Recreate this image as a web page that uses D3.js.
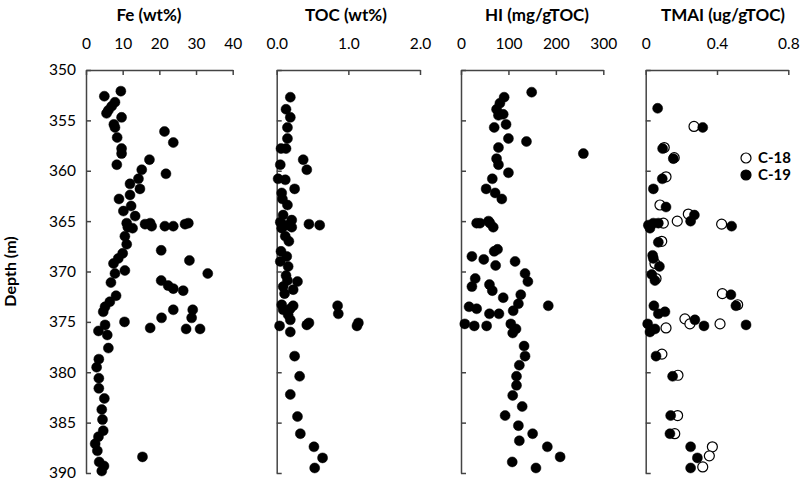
<!DOCTYPE html>
<html><head><meta charset="utf-8">
<script src="https://cdn.jsdelivr.net/npm/d3@7"></script>
<style>
body{margin:0;background:#fff;}
text{font-family:Lato,"Open Sans",sans-serif;}
</style></head>
<body><svg id="c" width="800" height="485"></svg>
<script>
// ---- data: [value, depth] ----
const feData = [[5.0,352.6],[9.5,352.1],[7.9,353.2],[7.0,353.6],[6.1,354.0],[5.6,354.3],[9.7,354.7],[7.6,355.4],[7.9,355.7],[8.5,356.7],[9.7,357.8],[9.7,358.3],[21.4,356.1],[23.8,357.2],[17.3,358.9],[8.4,359.4],[21.8,360.3],[15.2,359.9],[12.0,361.3],[14.3,360.8],[14.7,361.8],[12.0,362.4],[9.0,362.8],[12.3,363.5],[10.2,364.0],[13.4,364.5],[11.1,365.2],[11.4,365.6],[12.7,365.7],[16.1,365.3],[17.5,365.2],[17.9,365.5],[21.5,365.5],[23.8,365.5],[27.0,365.3],[27.9,365.2],[10.6,366.5],[11.1,367.3],[20.5,367.9],[10.0,368.2],[8.8,368.7],[7.5,369.2],[10.6,369.9],[7.9,370.2],[28.2,368.9],[33.2,370.2],[6.8,371.1],[20.5,370.9],[22.4,371.4],[23.8,371.7],[26.5,371.9],[8.2,372.4],[6.5,373.0],[5.2,373.5],[4.7,374.0],[29.1,373.8],[23.8,373.8],[20.6,374.6],[28.8,374.6],[10.5,375.0],[5.2,375.3],[17.5,375.6],[27.3,375.7],[31.1,375.7],[3.4,375.9],[5.8,376.3],[6.1,377.6],[3.5,378.7],[2.9,379.5],[3.5,380.6],[3.5,381.6],[5.0,382.6],[4.3,383.7],[4.5,384.7],[4.7,385.8],[3.4,386.4],[2.5,387.1],[3.1,387.8],[15.4,388.4],[3.6,388.9],[4.9,389.3],[4.3,389.8]];
const tocData = [[0.19,352.7],[0.13,353.9],[0.19,354.7],[0.15,355.7],[0.15,356.8],[0.06,357.8],[0.13,357.8],[0.37,358.9],[0.05,359.4],[0.42,359.9],[0.02,360.8],[0.12,360.9],[0.25,361.8],[0.07,362.2],[0.08,362.8],[0.15,363.4],[0.09,364.4],[0.05,365.1],[0.21,364.9],[0.14,365.4],[0.07,365.7],[0.21,365.6],[0.45,365.3],[0.60,365.4],[0.12,366.5],[0.17,367.0],[0.06,368.0],[0.14,368.5],[0.05,369.0],[0.16,369.5],[0.13,370.4],[0.15,370.9],[0.29,371.0],[0.09,371.5],[0.23,371.8],[0.11,372.2],[0.07,373.3],[0.09,373.8],[0.19,373.7],[0.23,373.4],[0.85,373.4],[0.86,374.2],[0.16,374.3],[0.19,374.8],[0.04,375.4],[0.19,376.0],[0.42,375.3],[0.45,375.1],[1.12,375.4],[1.14,375.1],[0.25,378.4],[0.32,380.4],[0.19,382.2],[0.29,384.4],[0.33,386.1],[0.52,387.4],[0.64,388.5],[0.53,389.5]];
const hiData = [[149,352.2],[91,352.7],[82,353.3],[75,353.9],[79,354.5],[89,354.4],[70,355.7],[95,355.4],[100,356.8],[138,357.1],[79,357.7],[258,358.3],[75,358.8],[79,359.4],[100,360.2],[66,360.8],[53,361.8],[72,362.2],[86,362.8],[33,365.2],[40,365.2],[58,365.0],[61,365.2],[68,365.6],[70,368.0],[77,367.8],[23,368.5],[48,368.8],[73,369.4],[114,369.0],[30,370.7],[23,371.5],[135,370.2],[141,371.0],[60,371.3],[66,371.9],[126,372.3],[89,372.6],[121,373.2],[17,373.5],[33,373.7],[184,373.4],[110,373.9],[60,374.2],[80,374.2],[8,375.2],[28,375.4],[54,375.4],[105,375.2],[116,375.7],[109,376.1],[133,377.4],[135,378.4],[123,379.3],[117,380.4],[117,381.3],[109,382.3],[129,383.4],[93,384.3],[121,385.3],[151,386.1],[123,386.8],[182,387.4],[209,388.4],[108,388.9],[158,389.5]];
const tmaiC18 = [[0.271,355.6],[0.104,357.7],[0.160,358.7],[0.114,360.6],[0.080,363.4],[0.177,365.0],[0.239,364.3],[0.099,365.2],[0.426,365.3],[0.090,367.0],[0.052,369.2],[0.058,370.7],[0.430,372.2],[0.516,373.3],[0.220,374.7],[0.248,375.2],[0.417,375.2],[0.114,375.6],[0.091,378.2],[0.181,380.3],[0.179,384.3],[0.163,386.1],[0.374,387.4],[0.357,388.3],[0.320,389.4]];
const tmaiC19 = [[0.067,353.8],[0.320,355.7],[0.095,357.8],[0.155,358.8],[0.093,360.8],[0.043,361.8],[0.114,363.6],[0.273,364.4],[0.252,365.0],[0.015,365.4],[0.043,365.2],[0.071,365.2],[0.024,365.7],[0.482,365.5],[0.071,367.1],[0.039,368.4],[0.043,368.7],[0.077,369.5],[0.034,370.3],[0.052,370.9],[0.478,372.3],[0.506,373.4],[0.046,373.4],[0.108,374.0],[0.071,374.2],[0.276,374.8],[0.327,375.4],[0.563,375.3],[0.011,375.2],[0.024,376.0],[0.052,375.7],[0.058,378.4],[0.151,380.4],[0.140,384.3],[0.136,386.1],[0.252,387.4],[0.290,388.5],[0.252,389.5]];

const panelTitles = ["Fe (wt%)","TOC (wt%)","HI (mg/gTOC)","TMAI (ug/gTOC)"];
const xDomains = [[0,40],[0,2],[0,300],[0,0.8]];
const xTickVals = [[0,10,20,30,40],[0,1,2],[0,100,200,300],[0,0.4,0.8]];
const xTickLabels = [["0","10","20","30","40"],["0.0","1.0","2.0"],["0","100","200","300"],["0","0.4","0.8"]];
const depthTicks = [350,355,360,365,370,375,380,385,390];
const legendLabels = ["C-18","C-19"];

// ---- layout ----
const svg = d3.select("#c");
const yTop = 70, yBottom = 473;
const panelX = [[86,232.7],[276.7,420],[461,603.3],[645.7,788.3]];
const titleX = [149,346,537,723];
const y = d3.scaleLinear().domain([350,390]).range([yTop,yBottom]);
const axisColor = "#444";

panelX.forEach((px,i)=>{
  const x = d3.scaleLinear().domain(xDomains[i]).range(px);
  const g = svg.append("g");
  const ax = d3.axisTop(x).tickValues(xTickVals[i]).tickFormat((d,k)=>xTickLabels[i][k])
    .tickSizeInner(-5).tickSizeOuter(0).tickPadding(21);
  const ga = g.append("g").attr("transform",`translate(0,${yTop})`).call(ax);
  ga.selectAll("text").attr("font-size",15.5).attr("fill","#000").attr("font-family","Lato");
  const ay = d3.axisLeft(y).tickValues(depthTicks).tickSizeInner(-5).tickSizeOuter(0).tickPadding(10)
    .tickFormat(i===0 ? d3.format("d") : ()=>"");
  const gy = g.append("g").attr("transform",`translate(${px[0]},0)`).call(ay);
  gy.selectAll("text").attr("font-size",15.5).attr("fill","#000").attr("font-family","Lato");
  [ga,gy].forEach(s=>{s.selectAll("path,line").attr("stroke",axisColor).attr("stroke-width",1.5);});
  svg.append("text").attr("x",titleX[i]).attr("y",21).attr("text-anchor","middle")
    .attr("font-size",17).attr("font-weight","bold").text(panelTitles[i]);
  const plot = (data, open)=>{
    g.append("g").selectAll("circle").data(data).join("circle")
      .attr("cx",d=>x(d[0])).attr("cy",d=>y(d[1])).attr("r",5)
      .attr("fill",open?"#fff":"#000").attr("stroke","#000").attr("stroke-width",open?1.2:0.5);
  };
  if(i===0) plot(feData,false);
  if(i===1) plot(tocData,false);
  if(i===2) plot(hiData,false);
  if(i===3){ plot(tmaiC18,true); plot(tmaiC19,false); }
});

svg.append("text").attr("transform",`translate(16,${(yTop+yBottom)/2}) rotate(-90)`)
  .attr("text-anchor","middle").attr("font-size",16).attr("font-weight","bold").text("Depth (m)");

const lg = svg.append("g");
legendLabels.forEach((l,k)=>{
  lg.append("circle").attr("cx",746).attr("cy",158+k*17).attr("r",5)
    .attr("fill",k===0?"#fff":"#000").attr("stroke","#000").attr("stroke-width",1.2);
  lg.append("text").attr("x",758).attr("y",158+k*17).attr("dy","0.35em")
    .attr("font-size",15).attr("font-weight","bold").text(l);
});
</script></body></html>
